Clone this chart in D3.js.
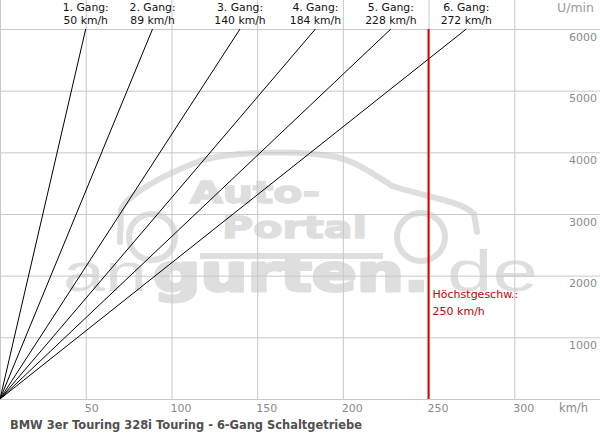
<!DOCTYPE html>
<html>
<head>
<meta charset="utf-8">
<script src="https://cdn.jsdelivr.net/npm/d3@7"></script>
<style>
  html, body { margin: 0; padding: 0; background: #fff; }
  svg { display: block; }
</style>
</head>
<body>
<svg id="chart" width="600" height="440"></svg>
<script>
// ---- data ----
const gearNames  = ["1. Gang:", "2. Gang:", "3. Gang:", "4. Gang:", "5. Gang:", "6. Gang:"];
const gearSpeeds = [50, 89, 140, 184, 228, 272];   // km/h at 6000 U/min
const maxRpm     = 6000;
const topSpeed   = 250;
const xTicks     = [50, 100, 150, 200, 250, 300];
const yTicks     = [1000, 2000, 3000, 4000, 5000, 6000];
const title      = "BMW 3er Touring 328i Touring - 6-Gang Schaltgetriebe";
const xUnit      = "km/h";
const yUnit      = "U/min";
const topLabel   = ["Höchstgeschw.:", "250 km/h"];

// ---- layout ----
const W = 600, H = 440;
const plotTop = 29, plotBottom = 399;
const FONT = "'DejaVu Sans', Verdana, sans-serif";
const GRID = "#c8c8c8";
const WM = "#dedede";

const svg = d3.select("#chart");
const x = d3.scaleLinear().domain([0, 350]).range([0, 600]);
const y = d3.scaleLinear().domain([0, maxRpm]).range([plotBottom, plotTop]);

// ---- watermark ----
const wm = svg.append("g").attr("class", "watermark");
wm.append("path")
  .attr("d", "M120,242 L121,210 C126,196 160,176 200,161 C232,151 300,150 336,157 C357,162 372,173 392,186 C422,196 462,201 474,214 L477,232")
  .attr("fill", "none").attr("stroke", WM).attr("stroke-width", 6).attr("stroke-linecap", "round");
wm.append("circle").attr("cx", 152).attr("cy", 237).attr("r", 23)
  .attr("fill", "none").attr("stroke", WM).attr("stroke-width", 6);
wm.append("circle").attr("cx", 421).attr("cy", 237).attr("r", 24)
  .attr("fill", "none").attr("stroke", WM).attr("stroke-width", 6);
wm.append("line").attr("x1", 200).attr("x2", 383).attr("y1", 256).attr("y2", 256)
  .attr("stroke", WM).attr("stroke-width", 6);
wm.append("text").text("Auto-").attr("x", 190).attr("y", 203)
  .attr("font-family", FONT).attr("font-weight", "bold").attr("font-size", 31)
  .attr("textLength", 130).attr("lengthAdjust", "spacingAndGlyphs").attr("fill", WM)
  .attr("stroke", WM).attr("stroke-width", 1.5);
wm.append("text").text("Portal").attr("x", 222).attr("y", 238)
  .attr("font-family", FONT).attr("font-weight", "bold").attr("font-size", 31)
  .attr("textLength", 145).attr("lengthAdjust", "spacingAndGlyphs").attr("fill", WM)
  .attr("stroke", WM).attr("stroke-width", 1.5);
wm.append("text").text("an").attr("x", 63).attr("y", 291)
  .attr("font-family", "'Liberation Sans', Arial, sans-serif").attr("font-size", 54)
  .attr("textLength", 84).attr("lengthAdjust", "spacingAndGlyphs").attr("fill", WM);
wm.append("text").text("gurten.").attr("x", 153).attr("y", 291)
  .attr("font-family", FONT).attr("font-weight", "bold").attr("font-size", 52)
  .attr("textLength", 276).attr("lengthAdjust", "spacingAndGlyphs").attr("fill", WM)
  .attr("stroke", WM).attr("stroke-width", 3).attr("stroke-linejoin", "round");
wm.append("text").text("de").attr("x", 447).attr("y", 291)
  .attr("font-family", "'Liberation Sans', Arial, sans-serif").attr("font-size", 58)
  .attr("textLength", 91).attr("lengthAdjust", "spacingAndGlyphs").attr("fill", WM);

// ---- grid / axes ----
const xAxis = d3.axisBottom(x).tickValues(xTicks).tickSize(-plotBottom).tickSizeOuter(0)
  .tickFormat(d3.format("d"));
const gx = svg.append("g").attr("transform", `translate(0,${plotBottom})`).call(xAxis);
gx.select(".domain").attr("stroke", GRID);
gx.selectAll(".tick line").attr("stroke", GRID);
gx.selectAll(".tick text")
  .attr("text-anchor", "start").attr("x", -1.5).attr("y", 13).attr("dy", null)
  .attr("fill", "#8a8a8a").attr("font-family", FONT).attr("font-size", 11);

const yAxis = d3.axisLeft(y).tickValues(yTicks).tickSize(-W).tickSizeOuter(0)
  .tickFormat(d3.format("d"));
const gy = svg.append("g").call(yAxis);
gy.select(".domain").remove();
gy.selectAll(".tick line").attr("stroke", GRID);
gy.selectAll(".tick text")
  .attr("text-anchor", "end").attr("x", 597).attr("dy", null).attr("y", 11)
  .attr("fill", "#8a8a8a").attr("font-family", FONT).attr("font-size", 11);

// left border
svg.append("line").attr("x1", 0.5).attr("x2", 0.5).attr("y1", 0).attr("y2", plotBottom)
  .attr("stroke", GRID);

// units
svg.append("text").text(xUnit).attr("x", 559).attr("y", 412)
  .attr("fill", "#8a8a8a").attr("font-family", FONT).attr("font-size", 11.5);
svg.append("text").text(yUnit).attr("x", 594).attr("y", 12).attr("text-anchor", "end")
  .attr("fill", "#9a9a9a").attr("font-family", FONT).attr("font-size", 12.5);

// ---- gear lines ----
const line = d3.line().x(d => x(d[0])).y(d => y(d[1]));
const gears = gearSpeeds.map((s, i) => ({ name: gearNames[i], speed: s }));
svg.append("g").selectAll("path").data(gears).join("path")
  .attr("d", d => line([[0, 0], [d.speed, maxRpm]]))
  .attr("fill", "none").attr("stroke", "#000").attr("stroke-width", 1);

const lbl = svg.append("g").selectAll("text").data(gears).join("text")
  .attr("text-anchor", "middle").attr("font-family", FONT).attr("font-size", 10.8)
  .attr("fill", "#111");
lbl.append("tspan").attr("x", d => x(d.speed)).attr("y", 11).text(d => d.name);
lbl.append("tspan").attr("x", d => x(d.speed)).attr("y", 24).text(d => d.speed + " km/h");

// ---- top speed ----
svg.append("line")
  .attr("x1", x(topSpeed)).attr("x2", x(topSpeed))
  .attr("y1", y(maxRpm)).attr("y2", y(0))
  .attr("stroke", "#d40000").attr("stroke-width", 2);
svg.append("text").attr("font-family", FONT).attr("font-size", 11).attr("fill", "#c80000")
  .selectAll("tspan").data(topLabel).join("tspan")
  .attr("x", x(topSpeed) + 4).attr("y", (d, i) => 298 + i * 17).text(d => d);

// ---- title ----
svg.append("text").text(title).attr("x", 10).attr("y", 429)
  .attr("font-family", FONT).attr("font-weight", "bold").attr("font-size", 12)
  .attr("textLength", 352).attr("lengthAdjust", "spacingAndGlyphs")
  .attr("fill", "#505050");
</script>
</body>
</html>
